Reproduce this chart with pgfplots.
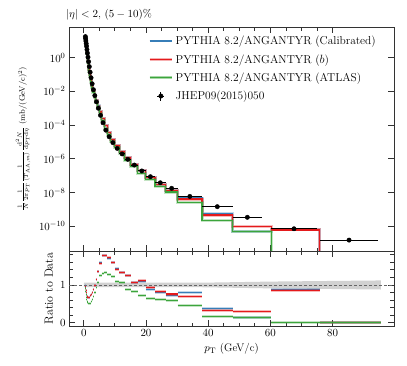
\documentclass[border=0pt]{standalone}
\usepackage{pgfplots}
\usepackage{pgfplotstable}
\pgfplotsset{compat=1.18}

\definecolor{cblue}{RGB}{55,126,184}
\definecolor{cred}{RGB}{228,26,28}
\definecolor{cgreen}{RGB}{60,165,60}

% bin low edges; model spectra (top) and model/data ratios (bottom)
\pgfplotstableread{
lo     b        r        g        rb    rr    rg
0.479  17.4     17.3     16.0     0.98  0.97  0.90
0.550  12.4     12.3     11.1     0.92  0.91  0.82
0.631  8.30     8.30     7.23     0.85  0.85  0.74
0.724  5.47     5.47     4.64     0.79  0.79  0.67
0.832  3.54     3.54     2.92     0.74  0.74  0.61
0.955  2.11     2.11     1.69     0.70  0.70  0.56
1.096  1.26     1.26     0.986    0.68  0.68  0.53
1.259  0.717    0.717    0.546    0.67  0.67  0.51
1.445  0.385    0.385    0.288    0.67  0.67  0.50
1.660  0.201    0.201    0.148    0.68  0.68  0.50
1.905  0.0980   0.0980   0.0718   0.71  0.71  0.52
2.188  0.0485   0.0485   0.0362   0.75  0.75  0.56
2.512  0.0228   0.0228   0.0175   0.81  0.81  0.62
2.884  0.0111   0.0111   8.82e-3  0.88  0.88  0.70
3.311  5.51e-3  5.51e-3  4.50e-3  0.98  0.98  0.80
3.802  2.76e-3  2.74e-3  2.23e-3  1.15  1.14  0.93
4.365  1.36e-3  1.35e-3  1.07e-3  1.36  1.35  1.07
5.012  6.08e-4  6.00e-4  4.75e-4  1.60  1.58  1.25
5.754  2.46e-4  2.44e-4  1.81e-4  1.78  1.77  1.31
6.607  8.97e-5  8.92e-5  6.61e-5  1.79  1.78  1.32
7.586  3.49e-5  3.51e-5  2.59e-5  1.71  1.72  1.27
8.710  1.46e-5  1.45e-5  1.11e-5  1.60  1.59  1.22
10.00  6.00e-6  5.92e-6  4.59e-6  1.44  1.42  1.10
11.48  2.59e-6  2.57e-6  2.07e-6  1.33  1.32  1.06
13.18  1.17e-6  1.16e-6  8.21e-7  1.25  1.24  0.88
15.14  4.57e-7  4.57e-7  3.50e-7  1.07  1.07  0.82
17.38  2.10e-7  2.12e-7  1.39e-7  1.10  1.11  0.73
19.95  7.75e-8  8.10e-8  5.66e-8  0.89  0.93  0.65
22.91  3.08e-8  3.12e-8  2.36e-8  0.81  0.82  0.62
26.30  1.30e-8  1.35e-8  1.07e-8  0.73  0.76  0.60
30.20  4.71e-9  4.12e-9  2.71e-9  0.80  0.70  0.46
38.02  5.51e-10 4.64e-10 2.32e-10 0.38  0.32  0.16
47.86  5.09e-11 9.83e-11 5.09e-11 0.15  0.29  0.15
60.26  6.30e-11 6.02e-11 1e-20    0.89  0.85  0.00
75.86  1e-20    1e-20    1e-20    0.00  0.00  0.00
95.50  1e-20    1e-20    1e-20    0.00  0.00  0.00
}\models

% data: bin centre, value, half bin width
\pgfplotstableread{
x      y         ex
0.515  17.8      0.036
0.590  13.5      0.040
0.678  9.77      0.047
0.778  6.92      0.054
0.894  4.79      0.062
1.026  3.02      0.071
1.178  1.86      0.082
1.352  1.07      0.093
1.553  0.575     0.108
1.783  0.295     0.123
2.047  0.138     0.142
2.350  0.0646    0.162
2.698  0.0282    0.186
3.098  0.0126    0.214
3.557  5.62e-3   0.246
4.084  2.40e-3   0.282
4.689  1.00e-3   0.324
5.383  3.80e-4   0.371
6.181  1.38e-4   0.427
7.097  5.01e-5   0.490
8.148  2.04e-5   0.562
9.355  9.12e-6   0.645
10.74  4.17e-6   0.74
12.33  1.95e-6   0.85
14.16  9.33e-7   0.98
16.26  4.27e-7   1.12
18.67  1.91e-7   1.29
21.43  8.71e-8   1.48
24.61  3.80e-8   1.70
28.25  1.78e-8   1.95
34.11  5.89e-9   3.91
42.94  1.45e-9   4.92
52.60  3.39e-10  4.74
67.60  7.08e-11  7.34
85.30  1.51e-11  9.44
}\spectrum

\pgfplotsset{
  panel/.style={
    scale only axis, width=325bp,
    xmin=-4.75, xmax=99.75,
    xtick={0,20,40,60,80}, minor x tick num=3,
    tick align=inside, xtick pos=both, ytick pos=both,
    major tick length=6bp, minor tick length=3.5bp,
    axis line style={black!80, line width=0.8bp},
    tick style={black!80, line width=0.8bp},
    font=\fontsize{11}{13}\selectfont,
  },
  band/.style={line width=3bp, opacity=0.3, forget plot},
  mline/.style={line width=1.1bp, forget plot},
}

\begin{document}
\begin{tikzpicture}
\path[use as bounding box] (0,0) rectangle (407bp,-366bp);

\begin{axis}[panel, at={(69bp,-27bp)}, anchor=north west, height=224bp,
  ymode=log, ymin=3.4e-12, ymax=66,
  ytick={1e-10,1e-8,1e-6,1e-4,1e-2,1}, yminorticks=false,
  xticklabels={},
  ylabel={$\frac{1}{N}\frac{1}{2\pi p_{\mathrm{T}}}\frac{1}{\langle T_{\mathrm{AA},m}\rangle}\frac{\mathrm{d}^{2}N}{\mathrm{d}p_{\mathrm{T}}\mathrm{d}\eta}$ (mb/(GeV/c)$^{2}$)},
  ylabel style={font=\fontsize{8}{10}\selectfont, at={(axis description cs:-0.108,0.5)}},
  title={$|\eta| < 2$, $(5-10)\%$},
  title style={at={(0,1)}, anchor=south west, inner sep=1bp, xshift=-4bp},
  legend style={at={(1,1)}, anchor=north east, xshift=-13bp, yshift=-5bp,
    draw=none, fill=none, row sep=4.2bp, font=\fontsize{11.5}{13}\selectfont},
  legend cell align=left]

\addlegendimage{legend image code/.code={
    \draw[color=cblue, line width=1.6bp] (0cm,0cm) -- (0.8cm,0cm);}}
\addlegendentry{PYTHIA 8.2/ANGANTYR (Calibrated)}
\addlegendimage{legend image code/.code={
    \draw[color=cred!35, line width=2.6bp] (0cm,0cm) -- (0.8cm,0cm);
    \draw[color=cred, line width=1.6bp] (0cm,0cm) -- (0.8cm,0cm);}}
\addlegendentry{PYTHIA 8.2/ANGANTYR ($b$)}
\addlegendimage{legend image code/.code={
    \draw[color=cgreen!45, line width=3bp] (0cm,0cm) -- (0.8cm,0cm);
    \draw[color=cgreen, line width=1.2bp] (0cm,0cm) -- (0.8cm,0cm);}}
\addlegendentry{PYTHIA 8.2/ANGANTYR (ATLAS)}
\addlegendimage{legend image code/.code={
    \draw[black, line width=1bp] (0.28cm,0cm) -- (0.52cm,0cm);
    \draw[black, line width=1bp] (0.4cm,-0.16cm) -- (0.4cm,0.16cm);
    \fill[black] (0.4cm,0cm) circle (2.2bp);}}
\addlegendentry{JHEP09(2015)050}

\addplot[band, cblue, const plot] table[x=lo, y=b] {\models};
\addplot[mline, cblue, const plot] table[x=lo, y=b] {\models};
\addplot[band, cred, const plot] table[x=lo, y=r] {\models};
\addplot[mline, cred, const plot] table[x=lo, y=r] {\models};
\addplot[band, cgreen, const plot] table[x=lo, y=g] {\models};
\addplot[mline, cgreen, const plot] table[x=lo, y=g] {\models};

\addplot[only marks, mark=*, mark size=2.2bp, black, forget plot,
  error bars/.cd, x dir=both, x explicit,
  error bar style={line width=1bp, black}, error mark=none]
  table[x=x, y=y, x error=ex] {\spectrum};
\end{axis}

\begin{axis}[panel, at={(69bp,-251bp)}, anchor=north west, height=75bp,
  ymin=-0.087, ymax=1.9,
  ytick={0,1}, minor ytick={0.2,0.4,0.6,0.8,1.2,1.4,1.6,1.8},
  xlabel={$p_{\mathrm{T}}$ (GeV/c)},
  ylabel={Ratio to Data},
  ylabel style={font=\fontsize{12}{14}\selectfont}]

\addplot[fill=black!18, draw=none] coordinates
  {(0,0.94) (38,0.94) (60,0.91) (95.5,0.88) (95.5,1.12) (60,1.09) (38,1.06) (0,1.06)} -- cycle;
\addplot[black!60, line width=0.8bp, dash pattern=on 3bp off 2bp] coordinates {(-4.75,1) (99.75,1)};

\addplot[band, cblue, jump mark left] table[x=lo, y=rb] {\models};
\addplot[mline, cblue, jump mark left] table[x=lo, y=rb] {\models};
\addplot[band, cred, jump mark left] table[x=lo, y=rr] {\models};
\addplot[mline, cred, jump mark left] table[x=lo, y=rr] {\models};
\addplot[band, cgreen, jump mark left] table[x=lo, y=rg] {\models};
\addplot[mline, cgreen, jump mark left] table[x=lo, y=rg] {\models};
\end{axis}
\end{tikzpicture}
\end{document}
